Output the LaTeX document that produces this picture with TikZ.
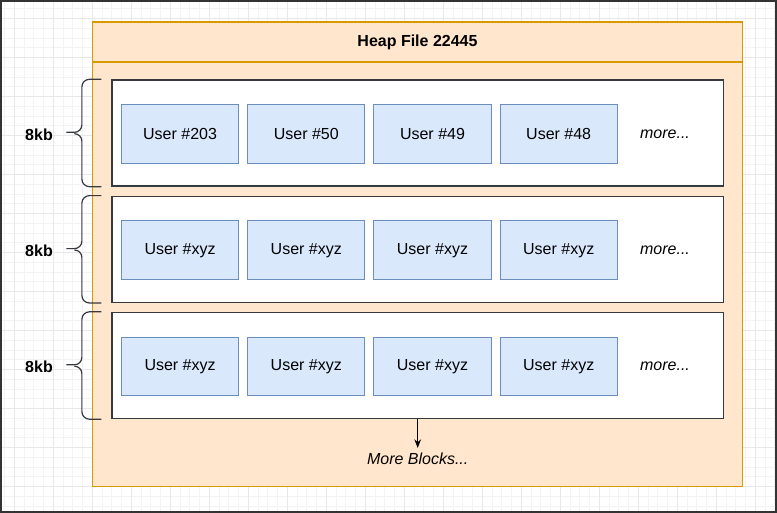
\documentclass[tikz,border=0pt]{standalone}
\usepackage{fontspec}
\setmainfont{Liberation Sans}
\usetikzlibrary{positioning,arrows.meta}

\definecolor{heapfill}{HTML}{FFE6CC}
\definecolor{heapdraw}{HTML}{D79B00}
\definecolor{userfill}{HTML}{DAE8FC}
\definecolor{userdraw}{HTML}{6C8EBF}
\definecolor{blockdraw}{HTML}{36393D}
\definecolor{gridminor}{HTML}{F3F3F3}
\definecolor{gridmajor}{HTML}{E8E8E8}

\begin{document}
\begin{tikzpicture}[
    x=0.75pt, y=-0.75pt,
    font=\fontsize{12}{14}\selectfont,
    heap/.style={
        rectangle,
        draw=heapdraw,
        fill=heapfill,
        line width=0.75pt,
        minimum width=650.4*0.75pt,
        inner sep=0pt
    },
    block/.style={
        rectangle,
        draw=blockdraw,
        fill=white,
        line width=1pt,
        minimum width=611.3*0.75pt,
        minimum height=106*0.75pt
    },
    user/.style={
        rectangle,
        draw=userdraw,
        fill=userfill,
        line width=0.75pt,
        minimum width=117.2*0.75pt,
        minimum height=58.7*0.75pt,
        align=center
    },
    size/.style={font=\fontsize{12}{14}\selectfont\bfseries},
    bracket/.style={draw=blockdraw, line width=0.9pt},
    gridline/.style={draw=gridminor, line width=0.75pt},
    gridbold/.style={draw=gridmajor, line width=0.75pt}
]

\useasboundingbox (0,0) rectangle (777,513);

% background grid
\foreach \i in {0,...,79} \draw[gridline] ({4.55+9.75*\i},0) -- ++(0,513);
\foreach \i in {0,...,51} \draw[gridline] (0,{8.95+9.75*\i}) -- ++(777,0);
\foreach \i in {0,...,19} \draw[gridbold] ({14.3+39*\i},0) -- ++(0,513);
\foreach \i in {0,...,12} \draw[gridbold] (0,{18.7+39*\i}) -- ++(777,0);
\draw[draw=black!80, line width=1.5pt] (1,1) rectangle (776,512);

% heap file
\node[heap, minimum height=465*0.75pt] (heap) at (417.5,254.2) {};
\node[heap, minimum height=39*0.75pt, font=\fontsize{12}{14}\selectfont\bfseries] (title) at (417.5,42.2) {\raisebox{-1.5pt}{Heap File 22445}};
\draw[draw=heapdraw, line width=0.75pt] (title.south west) -- (title.south east);

% blocks
\node[block] (block1) at (417.7,133) {};
\node[block] (block2) at (417.7,249.3) {};
\node[block] (block3) at (417.7,365.5) {};

\node[user] (u11) at (180.1,134.3) {User \#203};
\node[user] (u12) at (306.3,134.3) {User \#50};
\node[user] (u13) at (432.5,134.3) {User \#49};
\node[user] (u14) at (558.7,134.3) {User \#48};
\node (more1) at (665,134.3) {\itshape more...};

\node[user] (u21) at (180.1,250.3) {User \#xyz};
\node[user] (u22) at (306.3,250.3) {User \#xyz};
\node[user] (u23) at (432.5,250.3) {User \#xyz};
\node[user] (u24) at (558.7,250.3) {User \#xyz};
\node (more2) at (665,250.3) {\itshape more...};

\node[user] (u31) at (180.1,366.5) {User \#xyz};
\node[user] (u32) at (306.3,366.5) {User \#xyz};
\node[user] (u33) at (432.5,366.5) {User \#xyz};
\node[user] (u34) at (558.7,366.5) {User \#xyz};
\node (more3) at (665,366.5) {\itshape more...};

% braces
\foreach \b in {block1,block2,block3} {
    \draw[bracket] (\b.north west) ++(-10,0) -- ++(-12,0) to[out=180,in=90] ++(-7.5,7.5) -- ++(0,38) to[out=270,in=0] ++(-7.5,7.5) -- ++(-8,0);
    \draw[bracket] (\b.south west) ++(-10,0) -- ++(-12,0) to[out=180,in=270] ++(-7.5,-7.5) -- ++(0,-38) to[out=90,in=0] ++(-7.5,-7.5);
}
\node[size] (kb1) at (39,134.3) {8kb};
\node[size] (kb2) at (39,250.3) {8kb};
\node[size] (kb3) at (39,366.5) {8kb};

% more blocks
\node[anchor=north, inner sep=3.75pt] (moreblocks) at (417.7,448) {\itshape More Blocks...};
\draw[-{Stealth[length=6.5pt,width=5pt]}, line width=0.9pt] (block3.south) -- (moreblocks.north);

\end{tikzpicture}
\end{document}
